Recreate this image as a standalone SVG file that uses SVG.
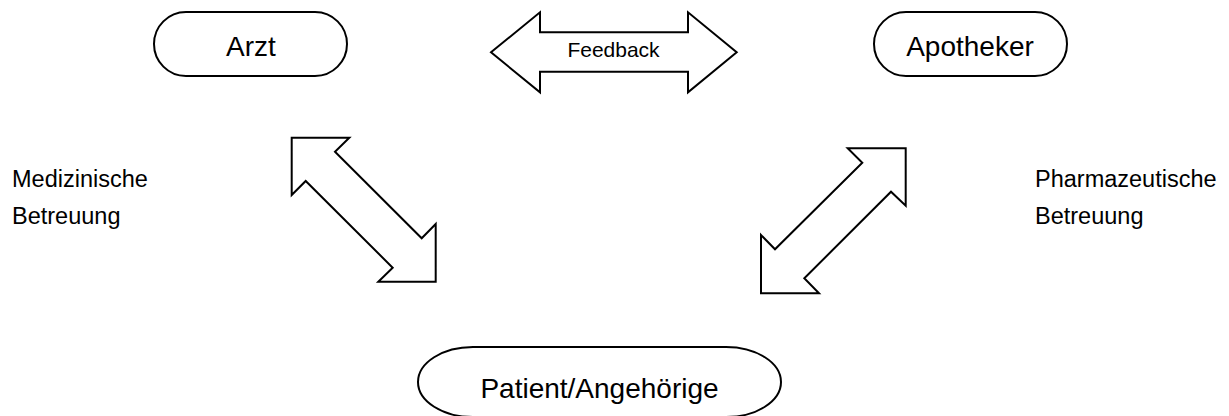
<svg xmlns="http://www.w3.org/2000/svg" width="1229" height="416" viewBox="0 0 1229 416">
<style>
.shape{fill:#fff;stroke:#000;stroke-width:2;stroke-linejoin:miter}
.t{font-family:"Liberation Sans",Arial,sans-serif;fill:#000}
.big{font-size:28px;text-anchor:middle}
.mid{font-size:23.5px}
.sm{font-size:21px;text-anchor:middle}
</style>
<rect width="1229" height="416" fill="#fff"/>
<g id="connectors">
  <g id="feedback">
    <polygon class="shape" points="491,52.3 540,12.3 540,32.3 688,32.3 688,12.3 736.7,52.3 688,92.3 688,71.7 540,71.7 540,92.3"/>
    <text class="t sm" x="613.5" y="57">Feedback</text>
  </g>
  <polygon id="arrow-arzt-patient" class="shape" points="291.7,137.7 349.3,137.7 335,151.7 421.7,238.3 435.7,224 435.7,281.7 378.3,281.7 392.7,267.7 305.7,181 291.7,195"/>
  <polygon id="arrow-apotheker-patient" class="shape" points="905.7,148.3 847.7,148.3 862.3,162.7 775,249.3 761,235 761,293.3 819,293.3 804.3,278.3 891,191.7 905.7,205.7"/>
</g>
<g id="arzt">
  <rect class="shape" x="154" y="12" width="193" height="64" rx="32" ry="32"/>
  <text class="t big" x="251" y="56">Arzt</text>
</g>
<g id="apotheker">
  <rect class="shape" x="874" y="12" width="193" height="64" rx="32" ry="32"/>
  <text class="t big" x="970" y="56">Apotheker</text>
</g>
<g id="patient">
  <rect class="shape" x="418" y="347" width="363" height="70" rx="55" ry="35"/>
  <text class="t big" x="599.5" y="398">Patient/Angehörige</text>
</g>
<g id="label-medizinisch">
  <text class="t mid" x="12" y="187">Medizinische</text>
  <text class="t mid" x="12" y="224">Betreuung</text>
</g>
<g id="label-pharmazeutisch">
  <text class="t mid" x="1035" y="187">Pharmazeutische</text>
  <text class="t mid" x="1035" y="224">Betreuung</text>
</g>
</svg>
